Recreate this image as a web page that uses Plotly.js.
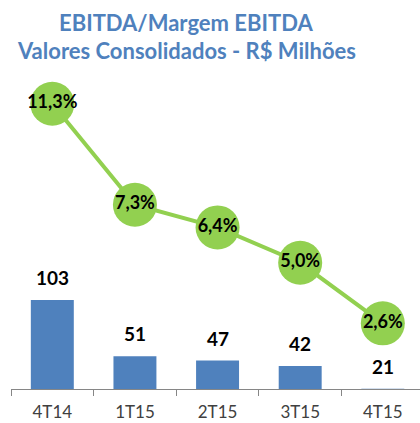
<!DOCTYPE html>
<html>
<head>
<meta charset="utf-8">
<script src="https://cdn.plot.ly/plotly-3.0.1.min.js"></script>
<style>html,body{margin:0;padding:0;background:#fff;}#chart{width:420px;height:423px;}</style>
</head>
<body>
<div id="chart"></div>
<script>
const categories = ["4T14", "1T15", "2T15", "3T15", "4T15"];
const ebitda = [103, 51, 47, 42, 21];
const margem = [11.3, 7.3, 6.4, 5.0, 2.6];
const titleLines = ["EBITDA/Margem EBITDA", "Valores Consolidados - R$ Milhões"];

const fontFam = "Lato, 'Open Sans', sans-serif";

const bars = {
  type: "bar",
  x: categories,
  y: ebitda,
  width: 0.52,
  marker: {color: "#4F81BD"},
  hoverinfo: "skip",
  yaxis: "y"
};

const line = {
  type: "scatter",
  mode: "lines+markers+text",
  x: categories,
  y: margem,
  yaxis: "y2",
  line: {color: "#92D050", width: 4},
  marker: {color: "#92D050", size: 44},
  texttemplate: "%{y:.1f}%",
  textposition: "middle center",
  textfont: {family: fontFam, size: 18, color: "#000000", weight: "bold"},
  cliponaxis: false,
  hoverinfo: "skip"
};

const annotations = categories.map((c, i) => ({
  x: c, y: ebitda[i], xref: "x", yref: "y",
  text: String(ebitda[i]), showarrow: false,
  yanchor: "bottom", yshift: 9,
  font: {family: fontFam, size: 19, color: "#000000", weight: "bold"}
}));

const titleY = [22, 50];
titleLines.forEach((t, i) => {
  annotations.push({
    text: t, showarrow: false,
    xref: "paper", yref: "paper",
    x: (186 - 11) / 409, xanchor: "center",
    y: 1 + (80 - titleY[i]) / 309, yanchor: "middle",
    font: {family: fontFam, size: 22, color: "#4F81BD", weight: "bold"}
  });
});

const layout = {
  width: 420, height: 423,
  margin: {l: 11, r: 0, t: 80, b: 34},
  paper_bgcolor: "#ffffff",
  plot_bgcolor: "#ffffff",
  separators: ",.",
  showlegend: false,
  xaxis: {
    type: "category",
    range: [-0.5, 4.45],
    showgrid: false, zeroline: false,
    showline: true, linecolor: "#868686", linewidth: 1,
    ticks: "outside", tickson: "boundaries", ticklen: 6, tickcolor: "#868686",
    ticklabelstandoff: 8,
    tickfont: {family: fontFam, size: 17, color: "#404040"},
    fixedrange: true
  },
  yaxis: {
    range: [20.7, 306.3],
    visible: false, showgrid: false, zeroline: false,
    fixedrange: true
  },
  yaxis2: {
    range: [0, 12.24],
    overlaying: "y", side: "right",
    visible: false, showgrid: false, zeroline: false,
    fixedrange: true
  },
  annotations: annotations
};

Plotly.newPlot("chart", [bars, line], layout, {displayModeBar: false, staticPlot: true});
</script>
</body>
</html>
